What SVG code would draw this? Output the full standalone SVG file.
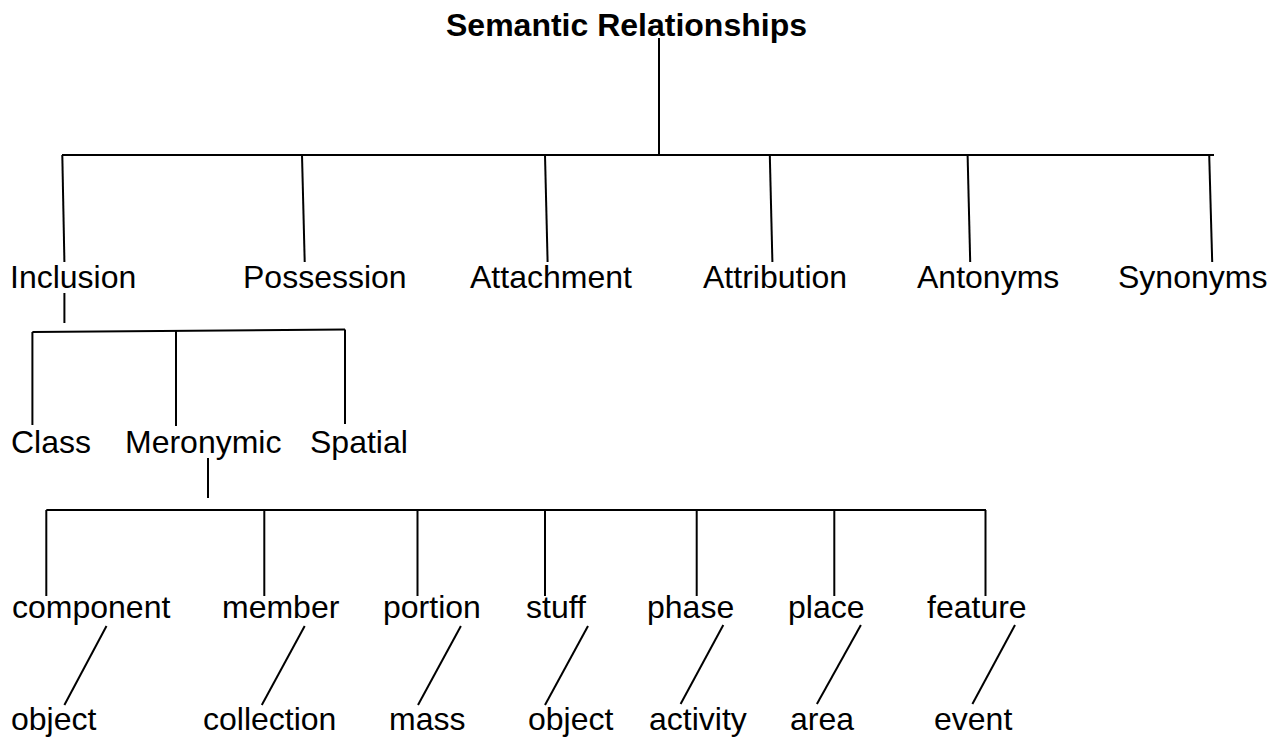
<svg xmlns="http://www.w3.org/2000/svg" width="1283" height="737" viewBox="0 0 1283 737">
  <style>
    text { font-family: "Liberation Sans", Arial, sans-serif; font-size: 32px; fill: #000; }
    .title { font-weight: bold; font-size: 32px; }
    .edge { stroke: #000; stroke-width: 2; fill: none; stroke-linecap: butt; }
  </style>
  <rect width="1283" height="737" fill="#fff"/>

  <!-- tree connectors -->
  <g id="connectors">
    <!-- root -->
    <path class="edge" d="M659 38 V155"/>
    <path class="edge" d="M62 155 H1214"/>
    <path class="edge" d="M62.3 155 L64.4 262"/>
    <path class="edge" d="M302 155 L304.7 262"/>
    <path class="edge" d="M545 155 L547.6 262"/>
    <path class="edge" d="M769.8 155 L772.4 262"/>
    <path class="edge" d="M967.6 155 L970.2 262"/>
    <path class="edge" d="M1209.2 155 L1212.2 262"/>
    <!-- Inclusion -->
    <path class="edge" d="M64.4 293 V323"/>
    <path class="edge" d="M32.4 332 L345 329.5"/>
    <path class="edge" d="M32.4 332 V425"/>
    <path class="edge" d="M176 331 V426"/>
    <path class="edge" d="M345 329.5 V424"/>
    <!-- Meronymic -->
    <path class="edge" d="M208 458 V498"/>
    <path class="edge" d="M46.3 510 H986"/>
    <path class="edge" d="M46.3 510 V596"/>
    <path class="edge" d="M264.3 510 V596"/>
    <path class="edge" d="M417.5 510 V596"/>
    <path class="edge" d="M545 510 V596"/>
    <path class="edge" d="M696.7 510 V596"/>
    <path class="edge" d="M834.3 510 V596"/>
    <path class="edge" d="M985.5 510 V596"/>
    <!-- part / whole pairs -->
    <path class="edge" d="M106.5 626 L64.4 705"/>
    <path class="edge" d="M304.7 626 L261.8 705"/>
    <path class="edge" d="M460.9 626 L418 705"/>
    <path class="edge" d="M588 626 L545 705"/>
    <path class="edge" d="M723.3 625 L680.6 704"/>
    <path class="edge" d="M860.9 625 L816.9 704"/>
    <path class="edge" d="M1015 625 L972.4 704"/>
  </g>

  <g id="root"><text class="title" x="446" y="36">Semantic Relationships</text></g>

  <g id="inclusion"><text x="10" y="288">Inclusion</text></g>
  <g id="possession"><text x="243" y="288">Possession</text></g>
  <g id="attachment"><text x="470" y="288">Attachment</text></g>
  <g id="attribution"><text x="703" y="288">Attribution</text></g>
  <g id="antonyms"><text x="917" y="288">Antonyms</text></g>
  <g id="synonyms"><text x="1118" y="288">Synonyms</text></g>

  <g id="class"><text x="11" y="453">Class</text></g>
  <g id="meronymic"><text x="125" y="453">Meronymic</text></g>
  <g id="spatial"><text x="310" y="453">Spatial</text></g>

  <g id="component"><text x="12" y="618">component</text></g>
  <g id="member"><text x="222" y="618">member</text></g>
  <g id="portion"><text x="383" y="618">portion</text></g>
  <g id="stuff"><text x="526" y="618">stuff</text></g>
  <g id="phase"><text x="647" y="618">phase</text></g>
  <g id="place"><text x="788" y="618">place</text></g>
  <g id="feature"><text x="927" y="618">feature</text></g>

  <g id="object-1"><text x="11" y="730">object</text></g>
  <g id="collection"><text x="203" y="730">collection</text></g>
  <g id="mass"><text x="389" y="730">mass</text></g>
  <g id="object-2"><text x="528" y="730">object</text></g>
  <g id="activity"><text x="649" y="730">activity</text></g>
  <g id="area"><text x="790" y="730">area</text></g>
  <g id="event"><text x="934" y="730">event</text></g>
</svg>
